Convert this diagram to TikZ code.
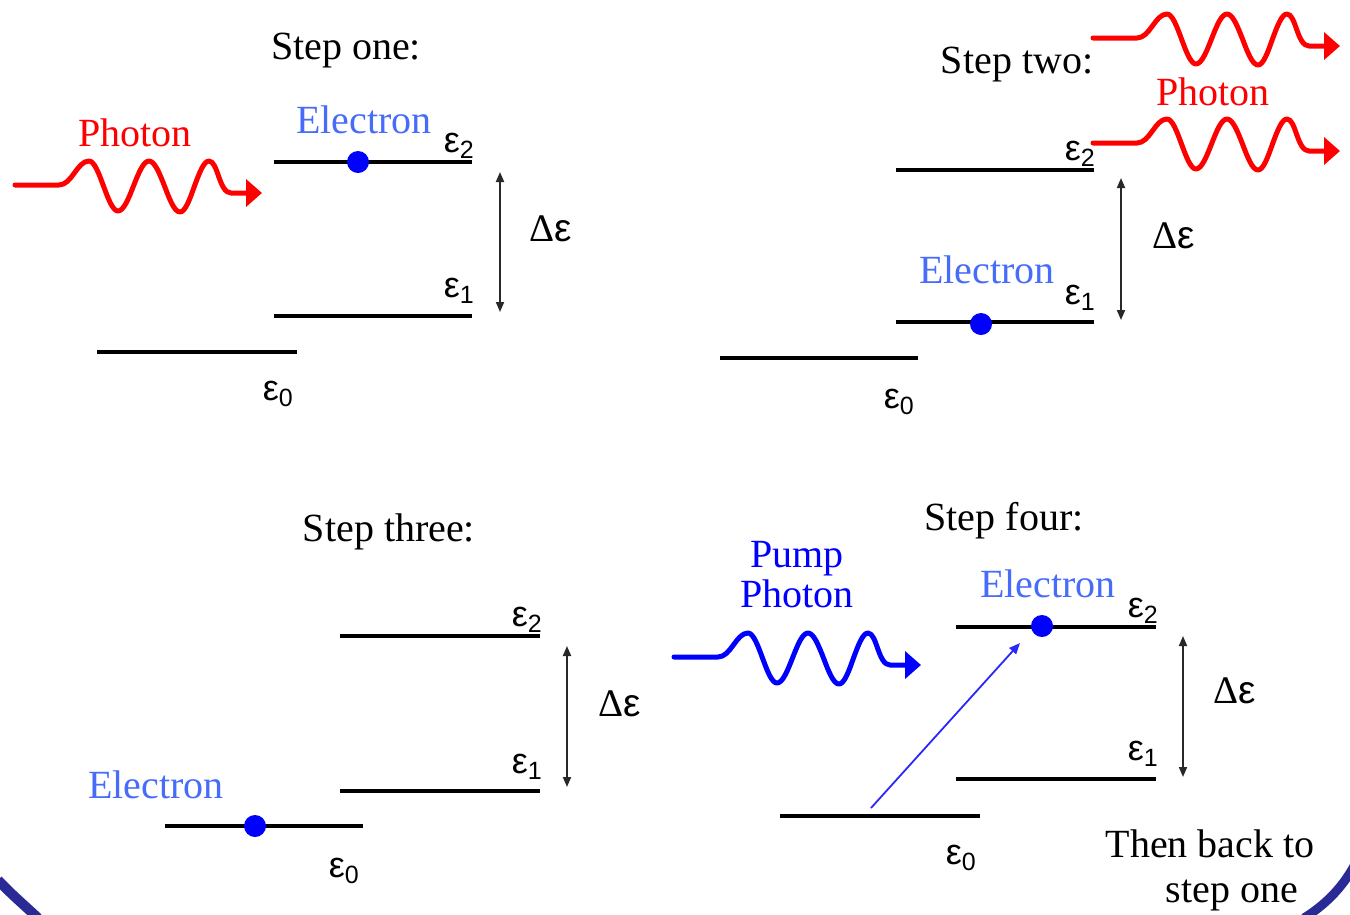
\documentclass[tikz,border=0pt]{standalone}
\usepackage{fontspec}
\setmainfont{Liberation Serif}
\newfontfamily\symf{Liberation Sans}
\usetikzlibrary{arrows.meta}
\definecolor{phred}{RGB}{255,0,0}
\definecolor{elblue}{RGB}{72,108,250}
\definecolor{pumpblue}{RGB}{0,0,255}
\definecolor{dotblue}{RGB}{0,0,255}
\definecolor{diagblue}{RGB}{40,40,250}
\definecolor{framecol}{RGB}{42,42,150}
\newcommand{\epslab}[1]{{\symf\fontsize{36}{36}\selectfont ε\raisebox{-6pt}{\fontsize{25}{25}\selectfont #1}}}
\newcommand{\deltaeps}{{\fontsize{39}{39}\selectfont Δ{\symf ε}}}
\tikzset{
  txt/.style={anchor=base,inner sep=0pt,font=\fontsize{40}{40}\selectfont},
  eltxt/.style={txt,text=elblue},
  photxt/.style={txt,text=phred},
  pumptxt/.style={txt,text=pumpblue},
  epsnode/.style={anchor=base east,inner sep=0pt},
  level/.style={line width=4pt},
  gap/.style={line width=1.8pt,draw={rgb,255:red,40;green,40;blue,40},{Triangle[length=10pt,width=8pt]}-{Triangle[length=10pt,width=8pt]}},
  electron/.style={circle,fill=dotblue,inner sep=0pt,minimum size=22pt},
  wavestyle/.style={line width=5pt,line cap=round,line join=round,-{Triangle[length=16pt,width=27pt]}},
  pics/wave/.style={code={
    \draw[wavestyle,#1] (0,0) -- (44,0) .. controls (57,0) and (62,-24) .. (74,-24)
      cos (88.5,1) sin (103,26) cos (118.5,1) sin (134,-24)
      cos (149.5,1) sin (165,27) cos (179.5,1) sin (194,-24)
      .. controls (203,-24) and (204,8) .. (216,8) -- (247,8);
  }}
}
\begin{document}
\begin{tikzpicture}[x=1pt,y=-1pt]
\useasboundingbox[fill=white] (0,0) rectangle (1350,914);

% ---------- Step one ----------
\node[txt] (s1) at (346,59) {Step one:};
\pic at (15,185) {wave=phred};
\node[photxt] (ph1) at (135,146) {Photon};
\node[eltxt] (el1) at (364,133) {Electron};
\draw[level] (274,162) -- (472,162);
\draw[level] (274,316) -- (472,316);
\draw[level] (97,352) -- (297,352);
\node[electron] (d1) at (358,162) {};
\node[epsnode] (e12) at (474,152) {\epslab{2}};
\node[epsnode] (e11) at (474,297) {\epslab{1}};
\node[epsnode] (e10) at (293,400) {\epslab{0}};
\coordinate (a1t) at (500,172);
\coordinate (a1b) at (500,312);
\draw[gap] (a1t) -- (a1b);
\node[txt] (de1) at (551,241) {\deltaeps};

% ---------- Step two ----------
\node[txt] (s2) at (1017,73) {Step two:};
\draw[level] (896,170) -- (1094,170);
\draw[level] (896,322) -- (1094,322);
\draw[level] (720,358) -- (918,358);
\node[epsnode] (e22) at (1095,160) {\epslab{2}};
\node[epsnode] (e21) at (1095,304) {\epslab{1}};
\node[epsnode] (e20) at (914,408) {\epslab{0}};
\pic at (1093,38) {wave=phred};
\pic at (1093,143) {wave=phred};
\node[photxt] (ph2) at (1213,105) {Photon};
\node[eltxt] (el2) at (987,283) {Electron};
\node[electron] (d2) at (981,324) {};
\coordinate (a2t) at (1121,178);
\coordinate (a2b) at (1121,320);
\draw[gap] (a2t) -- (a2b);
\node[txt] (de2) at (1174,248) {\deltaeps};

% ---------- Step three ----------
\node[txt] (s3) at (389,541) {Step three:};
\draw[level] (340,636) -- (540,636);
\draw[level] (340,791) -- (540,791);
\draw[level] (165,826) -- (363,826);
\node[epsnode] (e32) at (542,626) {\epslab{2}};
\node[epsnode] (e31) at (542,773) {\epslab{1}};
\node[epsnode] (e30) at (359,877) {\epslab{0}};
\node[eltxt] (el3) at (156,798) {Electron};
\node[electron] (d3) at (255,826) {};
\coordinate (a3t) at (567,646);
\coordinate (a3b) at (567,787);
\draw[gap] (a3t) -- (a3b);
\node[txt] (de3) at (620,716) {\deltaeps};

% ---------- Step four ----------
\node[txt] (s4) at (1004,530) {Step four:};
\node[pumptxt] (pp1) at (797,567) {Pump};
\node[pumptxt] (pp2) at (797,607) {Photon};
\pic at (674,657) {wave=pumpblue};
\draw[level] (956,627) -- (1156,627);
\draw[level] (956,779) -- (1156,779);
\draw[level] (780,816) -- (980,816);
\node[epsnode] (e42) at (1158,617) {\epslab{2}};
\node[epsnode] (e41) at (1158,760) {\epslab{1}};
\node[epsnode] (e40) at (976,864) {\epslab{0}};
\node[eltxt] (el4) at (1048,597) {Electron};
\node[electron] (d4) at (1042,626) {};
\coordinate (pstart) at (871,808);
\coordinate (pend) at (1020,643);
\draw[diagblue,line width=1.8pt,-{Triangle[length=11pt,width=9pt]}] (pstart) -- (pend);
\coordinate (a4t) at (1183,636);
\coordinate (a4b) at (1183,777);
\draw[gap] (a4t) -- (a4b);
\node[txt] (de4) at (1235,703) {\deltaeps};
\node[txt] (back1) at (1210,857) {Then back to};
\node[txt] (back2) at (1232,902) {step one};

% ---------- frame corners ----------
\draw[framecol,line width=10pt] (-2,880) .. controls (10,893) and (24,905) .. (38,918);
\draw[framecol,line width=9pt] (1304,918) .. controls (1325,905) and (1342,888) .. (1354,866);
\end{tikzpicture}
\end{document}
